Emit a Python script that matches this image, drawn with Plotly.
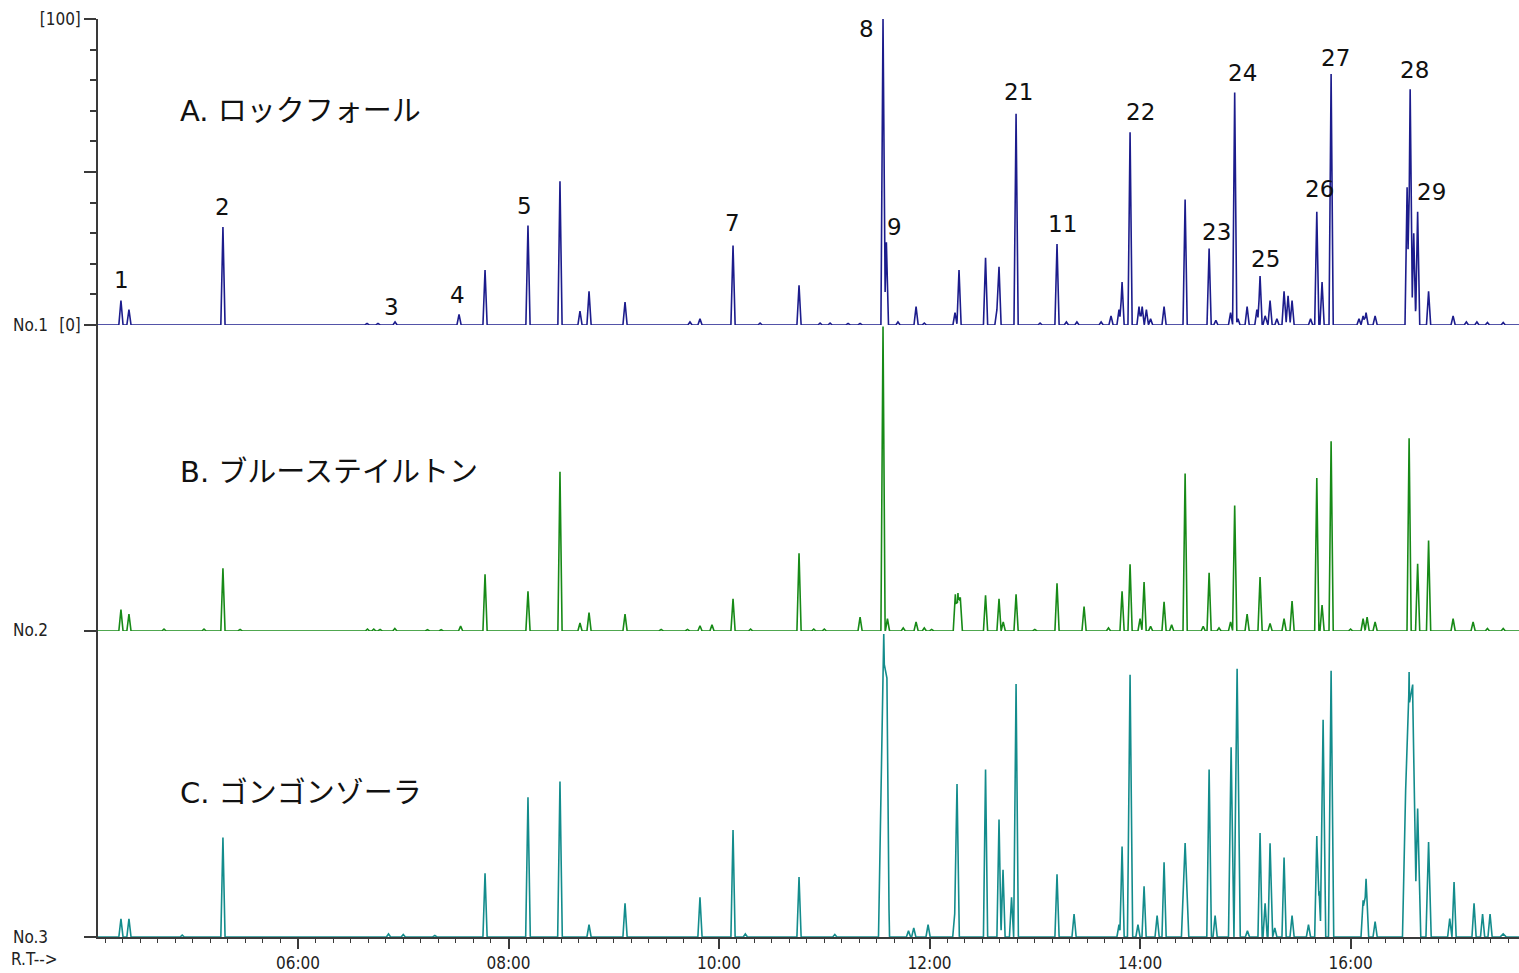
import plotly.graph_objects as go

# ---------------- data (retention time in min, relative intensity %) ----------------
A_times = [4.318, 4.394, 5.287, 6.656, 6.760, 6.922, 7.530, 7.777, 8.185, 8.489, 8.679, 8.765,
           9.107, 9.724, 9.819, 10.133, 10.390, 10.760, 10.960, 11.055, 11.226, 11.340, 11.558,
           11.590, 11.700, 11.872, 11.950, 12.242, 12.280, 12.532, 12.640, 12.660, 12.822,
           13.050, 13.211, 13.300, 13.400, 13.630, 13.724, 13.800, 13.829, 13.905, 13.990,
           14.020, 14.060, 14.100, 14.228, 14.428, 14.656, 14.720, 14.860, 14.899, 14.930,
           15.017, 15.110, 15.140, 15.188, 15.235, 15.300, 15.368, 15.406, 15.444, 15.620,
           15.679, 15.729, 15.815, 16.080, 16.119, 16.147, 16.233, 16.537, 16.566, 16.600,
           16.637, 16.741, 16.974, 17.100, 17.200, 17.300, 17.450]
A_heights = [8, 5, 32, 0.5, 0.5, 1.0, 3.5, 18, 32.5, 47, 4.5, 11,
             7.5, 1, 2, 26, 0.6, 13, 0.6, 0.6, 0.5, 0.5, 100,
             27, 1.0, 6, 0.6, 4, 18, 22, 5, 19, 69,
             0.6, 26.5, 1, 1, 1, 3, 5, 14, 63, 6,
             6, 5, 2, 6, 41, 25, 1.5, 4, 76, 2,
             6, 5, 16, 3, 8, 2, 11, 9.5, 8, 2,
             37, 14, 82, 2, 3, 4, 3, 45, 77, 30,
             37, 11, 3, 1, 1, 0.8, 0.8]
A_widths = [0.02] * len(A_times)

B_times = [4.318, 4.394, 4.727, 5.107, 5.287, 5.450, 6.660, 6.720, 6.780, 6.920, 7.230, 7.360,
           7.545, 7.777, 8.185, 8.489, 8.679, 8.765, 9.107, 9.450, 9.700, 9.819, 9.933,
           10.133, 10.300, 10.760, 10.900, 11.000, 11.340, 11.558, 11.600, 11.750, 11.872,
           11.950, 12.020, 12.245, 12.270, 12.292, 12.532, 12.660, 12.700, 12.822, 13.000,
           13.211, 13.468, 13.700, 13.829, 13.905, 14.000, 14.038, 14.100, 14.228, 14.300,
           14.428, 14.600, 14.656, 14.750, 14.860, 14.899, 15.017, 15.140, 15.235, 15.368,
           15.444, 15.679, 15.729, 15.815, 16.000, 16.119, 16.157, 16.233, 16.556, 16.637,
           16.741, 16.974, 17.164, 17.300, 17.450]
B_heights = [7, 5.5, 0.6, 0.6, 20.5, 0.5, 0.6, 0.6, 0.5, 0.8, 0.4, 0.4,
             1.6, 18.5, 13, 52, 2.6, 6, 5.5, 0.5, 0.5, 1.7, 2,
             10.5, 0.6, 25.4, 0.6, 0.6, 4.5, 99.5, 4, 1, 3,
             1, 0.5, 12, 12.4, 11, 11.7, 10.5, 3, 12, 0.5,
             15.6, 8, 1, 13, 21.8, 4, 16, 1.5, 9.5, 2,
             51.5, 1.5, 19, 1, 3, 41, 5.5, 17.6, 2.5, 4,
             9.8, 50, 8.5, 62, 0.6, 4, 4.5, 3, 63, 22,
             29.6, 4, 3, 0.8, 0.8]
B_widths = [0.02] * len(B_times)

C_times = [4.318, 4.394, 4.900, 5.287, 6.860, 7.000, 7.300, 7.777, 8.185, 8.489, 8.765, 9.107,
           9.819, 10.133, 10.250, 10.760, 11.100, 11.565, 11.595, 11.800, 11.850, 11.986,
           12.240, 12.261, 12.532, 12.660, 12.698, 12.779, 12.822, 13.211, 13.373, 13.800,
           13.829, 13.905, 13.980, 14.038, 14.162, 14.228, 14.428, 14.656, 14.713, 14.865,
           14.922, 15.020, 15.140, 15.188, 15.235, 15.280, 15.368, 15.444, 15.600, 15.679,
           15.701, 15.739, 15.815, 16.119, 16.147, 16.233, 16.523, 16.556, 16.590, 16.637,
           16.741, 16.942, 16.983, 17.173, 17.254, 17.325, 17.450]
C_heights = [5.9, 5.9, 0.6, 32.5, 1, 0.8, 0.5, 20.8, 45.7, 50.8, 4, 11,
             13, 35, 1, 19.6, 0.8, 99, 45, 2, 3, 4,
             8, 50, 54.7, 38.4, 22, 13, 82.7, 20.5, 7.5, 4,
             29.6, 85.7, 4, 16.6, 7, 24.4, 30.7, 54.7, 7, 62,
             87.7, 2, 34, 11, 30.6, 3, 26, 7, 4, 33,
             15, 71, 87, 12, 19, 5, 43, 86.6, 80, 42,
             31, 6, 18, 11, 7.5, 7.5, 1]
C_widths = [0.02, 0.02, 0.02, 0.02, 0.02, 0.02, 0.02, 0.02, 0.022, 0.022, 0.02, 0.02,
            0.02, 0.02, 0.02, 0.02, 0.02, 0.05, 0.025, 0.02, 0.02, 0.02,
            0.02, 0.022, 0.02, 0.02, 0.02, 0.02, 0.022, 0.02, 0.02, 0.02,
            0.02, 0.025, 0.02, 0.02, 0.02, 0.02, 0.035, 0.022, 0.02, 0.025,
            0.03, 0.02, 0.02, 0.02, 0.02, 0.02, 0.02, 0.02, 0.02, 0.02,
            0.02, 0.025, 0.025, 0.02, 0.025, 0.02, 0.03, 0.035, 0.03, 0.03,
            0.025, 0.02, 0.02, 0.02, 0.02, 0.02, 0.03]

X_RANGE = [4.10, 17.60]
x_tick_vals = [6, 8, 10, 12, 14, 16]
x_tick_text = ["06:00", "08:00", "10:00", "12:00", "14:00", "16:00"]

sample_labels = ["A. ロックフォール", "B. ブルーステイルトン", "C. ゴンゴンゾーラ"]
channel_labels = ["No.1", "No.2", "No.3"]
peak_numbers = ["1", "2", "3", "4", "5", "7", "8", "9", "21", "11", "22", "23", "24", "25",
                "26", "27", "28", "29"]

COLORS = ["#1c1c8c", "#178a17", "#138c8c"]


def build_line(times, heights, widths):
    """Piecewise-linear chromatogram built from the listed peaks (sum of narrow peaks)."""
    xs = {X_RANGE[0], X_RANGE[1]}
    for t, w in zip(times, widths):
        xs.update([t - w, t, t + w])
    xs = sorted(xs)
    ys = []
    for x in xs:
        y = 0.0
        for t, h, w in zip(times, heights, widths):
            d = abs(x - t)
            if d < w:
                y += h * (1 - d / w)
        ys.append(y)
    return xs, ys


# ---------------- figure geometry ----------------
W, H = 1519, 973
PL, PT, PR, PB = 98, 19, 0, 32
PW, PH = W - PL - PR, H - PT - PB


def px_x(px):
    return (px - PL) / PW


def px_y(py):
    return 1 - (py - PT) / PH


fig = go.Figure()
axes = ["y3", "y2", "y"]
for (times, heights, widths), color, ax in zip(
        [(A_times, A_heights, A_widths), (B_times, B_heights, B_widths), (C_times, C_heights, C_widths)],
        COLORS, axes):
    xs, ys = build_line(times, heights, widths)
    fig.add_trace(go.Scatter(x=xs, y=ys, mode="lines", yaxis=ax,
                             line=dict(color=color, width=1.6), hoverinfo="skip",
                             showlegend=False))

AX_COL = "#3a3a3a"
SMALL_FONT = dict(family="Liberation Sans Narrow, DejaVu Sans Condensed, Arial Narrow, sans-serif",
                  size=17, color="#222222")

common_y = dict(range=[0, 100], showgrid=False, zeroline=False, showline=True,
                linecolor=AX_COL, linewidth=1.5, ticks="outside", tickcolor=AX_COL,
                tickwidth=1.5, fixedrange=True)

fig.update_layout(
    width=W, height=H,
    margin=dict(l=PL, r=PR, t=PT, b=PB),
    paper_bgcolor="white", plot_bgcolor="white",
    xaxis=dict(range=X_RANGE, showgrid=False, zeroline=False, showline=True,
               linecolor=AX_COL, linewidth=1.5, ticks="outside", ticklen=10,
               tickwidth=1.5, tickcolor=AX_COL, tickvals=x_tick_vals, ticktext=x_tick_text,
               tickfont=SMALL_FONT, layer="below traces",
               minor=dict(dtick=1 / 6, tick0=6, ticks="outside", ticklen=4,
                          tickwidth=1.2, tickcolor=AX_COL)),
    yaxis=dict(domain=[0, 1 / 3], tickvals=[0], ticktext=[""], ticklen=12, **common_y),
    yaxis2=dict(domain=[1 / 3, 2 / 3], tickvals=[0], ticktext=[""], ticklen=12, **common_y),
    yaxis3=dict(domain=[2 / 3, 1], tickvals=[0, 50, 100], ticktext=["[0]", "", "[100]"],
                ticklen=12, tickfont=SMALL_FONT,
                minor=dict(dtick=10, ticks="outside", ticklen=6, tickwidth=1.5,
                           tickcolor=AX_COL),
                **common_y),
)

annotations = []
# sample names
for lab, (lx, ly) in zip(sample_labels, [(178, 111), (178, 474), (178, 796)]):
    annotations.append(dict(text=lab, x=px_x(lx), y=px_y(ly), xref="paper", yref="paper",
                            xanchor="left", yanchor="middle", showarrow=False,
                            font=dict(family="DejaVu Sans, Noto Sans CJK JP, sans-serif",
                                      size=29, color="#111111")))
# channel labels
for lab, ly in zip(channel_labels, [326, 633, 941]):
    annotations.append(dict(text=lab, x=px_x(11), y=px_y(ly), xref="paper", yref="paper",
                            xanchor="left", yanchor="middle", showarrow=False, font=SMALL_FONT))
annotations.append(dict(text="R.T-->", x=px_x(9), y=px_y(963), xref="paper", yref="paper",
                        xanchor="left", yanchor="middle", showarrow=False, font=SMALL_FONT))
# peak numbers
num_pos = [(121, 281), (222, 208), (391, 308), (457, 296), (524, 207), (732, 224),
           (867, 29), (894, 228), (1018, 92), (1062, 225), (1140, 112), (1216, 233),
           (1242, 73), (1265, 260), (1319, 190), (1335, 58), (1414, 70), (1431, 193)]
for lab, (nx, ny) in zip(peak_numbers, num_pos):
    annotations.append(dict(text=lab, x=px_x(nx), y=px_y(ny), xref="paper", yref="paper",
                            xanchor="center", yanchor="middle", showarrow=False,
                            font=dict(family="DejaVu Sans, Verdana, sans-serif", size=23,
                                      color="#111111")))
fig.update_layout(annotations=annotations)

fig.write_html("out.html", config={"displayModeBar": False},
               post_script="document.body.style.margin='0';document.body.style.overflow='hidden';")
